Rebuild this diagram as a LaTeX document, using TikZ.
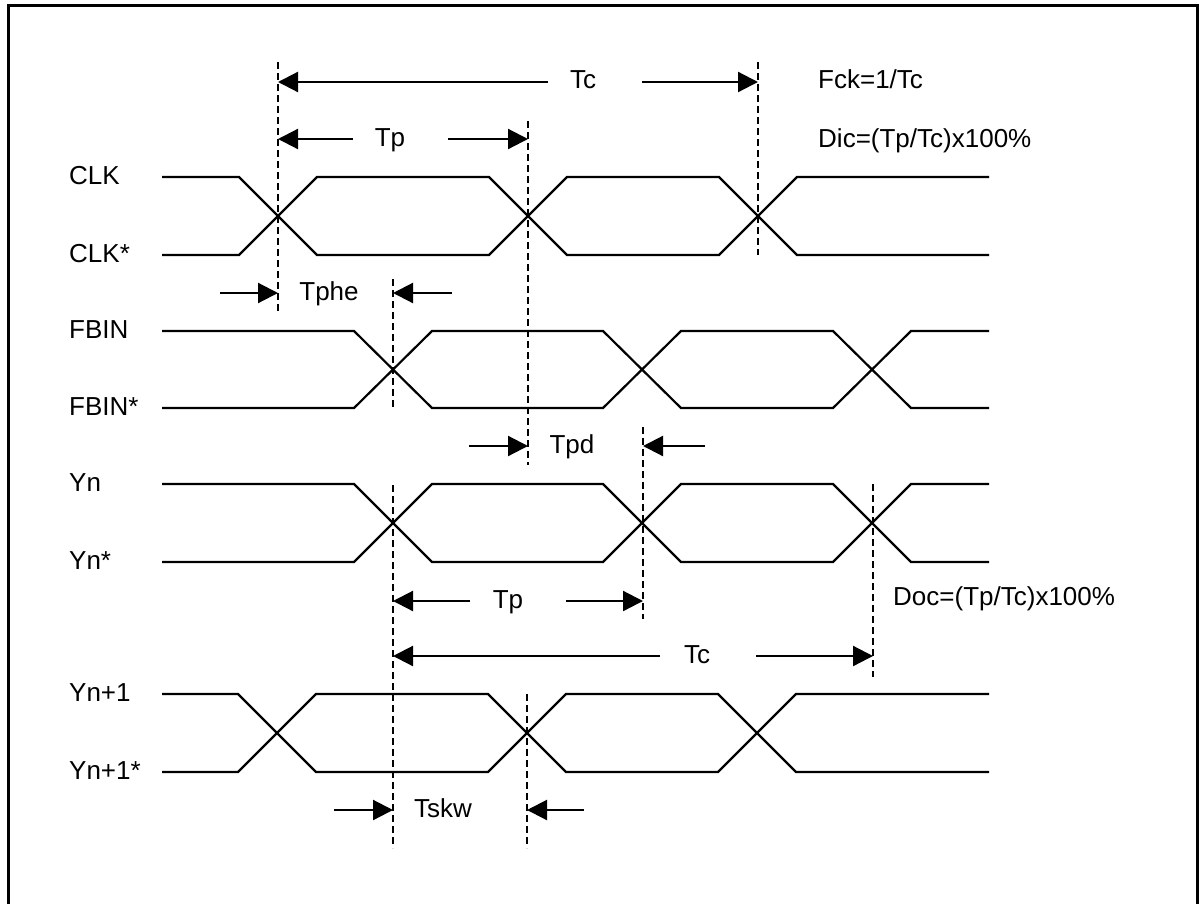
\documentclass[tikz,border=0pt]{standalone}
\usepackage{fontspec}
\setmainfont{Liberation Sans}
\usetikzlibrary{arrows.meta}
\newcommand\wavepair[5]{%
  \draw[wave] (162,#1) -- ({#3-39},#1) -- ({#3+39},#2) -- ({#4-39},#2) -- ({#4+39},#1) -- ({#5-39},#1) -- ({#5+39},#2) -- (989,#2);
  \draw[wave] (162,#2) -- ({#3-39},#2) -- ({#3+39},#1) -- ({#4-39},#1) -- ({#4+39},#2) -- ({#5-39},#2) -- ({#5+39},#1) -- (989,#1);
}
\begin{document}
\begin{tikzpicture}[x=1pt,y=-1pt,
  wave/.style={line width=2.2pt},
  guide/.style={line width=2pt, dash pattern=on 7pt off 4pt},
  dim/.style={line width=2.2pt, -{Triangle[length=20pt,width=20pt]}},
  txt/.style={inner sep=0pt, font=\fontsize{26}{30}\selectfont},
  lbl/.style={txt, anchor=base west},
  mid/.style={txt, anchor=base}]
\useasboundingbox (0,0) rectangle (1199,903);
\draw[line width=3pt] (8,925) -- (8,5) -- (1197.5,5) -- (1197.5,925);

% signal labels
\node[lbl] (lclk)  at (69,184) {CLK};
\node[lbl] (lclkn) at (69,262) {CLK*};
\node[lbl] (lfb)   at (69,338) {FBIN};
\node[lbl] (lfbn)  at (69,415) {FBIN*};
\node[lbl] (lyn)   at (69,491) {Yn};
\node[lbl] (lynn)  at (69,569) {Yn*};
\node[lbl] (ly1)   at (69,701) {Yn+1};
\node[lbl] (ly1n)  at (69,779) {Yn+1*};

% waveforms
\wavepair{177}{255}{278}{528}{758}
\wavepair{331}{408}{393}{642}{872}
\wavepair{484}{562}{393}{642}{872}
\wavepair{694}{772}{277}{527}{757}

% guide lines
\coordinate (g1a) at (278,62);  \coordinate (g1b) at (278,312);
\coordinate (g2a) at (528,121); \coordinate (g2b) at (528,465);
\coordinate (g3a) at (758,62);  \coordinate (g3b) at (758,255);
\coordinate (g4a) at (393,279); \coordinate (g4b) at (393,408);
\coordinate (g5a) at (393,485); \coordinate (g5b) at (393,848);
\coordinate (g6a) at (643,427); \coordinate (g6b) at (643,619);
\coordinate (g7a) at (873,484); \coordinate (g7b) at (873,677);
\coordinate (g8a) at (527,694); \coordinate (g8b) at (527,848);
\foreach \g in {1,...,8} \draw[guide] (g\g a) -- (g\g b);

% Tc (top)
\node[mid] (tc1) at (583,88) {Tc};
\coordinate (tc1l) at (548,82); \coordinate (tc1le) at (278,82);
\coordinate (tc1r) at (642,82); \coordinate (tc1re) at (758,82);
\draw[dim] (tc1l) -- (tc1le);
\draw[dim] (tc1r) -- (tc1re);
\node[lbl] (fck) at (818,88) {Fck=1/Tc};

% Tp (top)
\node[mid] (tp1) at (390,146) {Tp};
\coordinate (tp1l) at (353,139); \coordinate (tp1le) at (278,139);
\coordinate (tp1r) at (448,139); \coordinate (tp1re) at (528,139);
\draw[dim] (tp1l) -- (tp1le);
\draw[dim] (tp1r) -- (tp1re);
\node[lbl] (dic) at (818,147) {Dic=(Tp/Tc)x100\%};

% Tphe
\node[mid] (tphe) at (329,300) {Tphe};
\coordinate (phl) at (220,293); \coordinate (phle) at (278,293);
\coordinate (phr) at (452,293); \coordinate (phre) at (393,293);
\draw[dim] (phl) -- (phle);
\draw[dim] (phr) -- (phre);

% Tpd
\node[mid] (tpd) at (572,453) {Tpd};
\coordinate (pdl) at (469,446); \coordinate (pdle) at (528,446);
\coordinate (pdr) at (705,446); \coordinate (pdre) at (643,446);
\draw[dim] (pdl) -- (pdle);
\draw[dim] (pdr) -- (pdre);

% Tp (Yn)
\node[mid] (tp2) at (508,608) {Tp};
\coordinate (tp2l) at (470,601); \coordinate (tp2le) at (393,601);
\coordinate (tp2r) at (566,601); \coordinate (tp2re) at (643,601);
\draw[dim] (tp2l) -- (tp2le);
\draw[dim] (tp2r) -- (tp2re);
\node[lbl] (doc) at (893,605) {Doc=(Tp/Tc)x100\%};

% Tc (Yn)
\node[mid] (tc2) at (697,663) {Tc};
\coordinate (tc2l) at (660,656); \coordinate (tc2le) at (393,656);
\coordinate (tc2r) at (756,656); \coordinate (tc2re) at (873,656);
\draw[dim] (tc2l) -- (tc2le);
\draw[dim] (tc2r) -- (tc2re);

% Tskw
\node[mid] (tskw) at (443,817) {Tskw};
\coordinate (skl) at (334,810); \coordinate (skle) at (393,810);
\coordinate (skr) at (584,810); \coordinate (skre) at (527,810);
\draw[dim] (skl) -- (skle);
\draw[dim] (skr) -- (skre);
\end{tikzpicture}
\end{document}
